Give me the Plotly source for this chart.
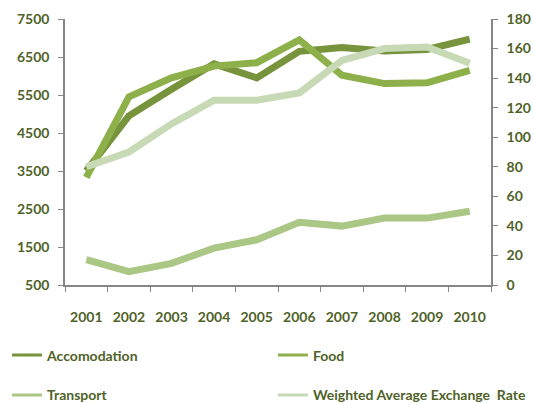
import plotly.graph_objects as go

years = ["2001", "2002", "2003", "2004", "2005", "2006", "2007", "2008", "2009", "2010"]
accomodation = [3500, 4950, 5650, 6320, 5950, 6650, 6750, 6660, 6700, 6970]
food = [3330, 5450, 5950, 6260, 6350, 6950, 6020, 5800, 5820, 6150]
transport = [1170, 850, 1070, 1470, 1690, 2150, 2050, 2260, 2260, 2440]
exchange_rate = [80, 90, 109, 125, 125, 130, 152, 160, 161, 150]

names = ["Accomodation", "Food", "Transport", "Weighted Average Exchange  Rate"]
C_ACC = "#77933C"
C_FOOD = "#8DB04B"
C_TRANS = "#ABC785"
C_EXCH = "#C8D9B5"
colors = [C_ACC, C_FOOD, C_TRANS, C_EXCH]
TXT = "#4F6228"
AX = "#868686"

fig = go.Figure()
series = [accomodation, food, transport, exchange_rate]
axes = ["y", "y", "y", "y2"]
for n, s, c, a in zip(names, series, colors, axes):
    fig.add_trace(go.Scatter(x=years, y=s, name=n, mode="lines", yaxis=a,
                             line=dict(color=c, width=7), showlegend=False))

# legend-only entries (thin lines like the reference legend)
legend_ids = ["legend", "legend2", "legend3", "legend4"]
for n, c, lg in zip(names, colors, legend_ids):
    fig.add_trace(go.Scatter(x=[None], y=[None], name=n, mode="lines",
                             line=dict(color=c, width=3), legend=lg, showlegend=True))

font = dict(family="Lato", size=14, color=TXT, weight="bold")

def leg(x, y):
    return dict(orientation="h", x=x, xanchor="left", y=y, yanchor="middle",
                font=font, bgcolor="rgba(0,0,0,0)")

fig.update_layout(
    width=534, height=403,
    margin=dict(l=65, r=43, t=19, b=118, autoexpand=False),
    paper_bgcolor="white", plot_bgcolor="white",
    font=font,
    xaxis=dict(type="category", tickson="boundaries", ticks="outside", ticklen=5,
               tickcolor=AX, showline=True, linecolor=AX, linewidth=1.5,
               showgrid=False, tickfont=font, range=[-0.5, 9.5], ticklabelstandoff=18),
    yaxis=dict(range=[500, 7500], tick0=500, dtick=1000, ticks="outside", ticklen=5,
               tickcolor=AX, showline=True, linecolor=AX, linewidth=1.5,
               showgrid=False, zeroline=False, tickfont=font, ticklabelstandoff=6),
    yaxis2=dict(range=[0, 180], dtick=20, overlaying="y", side="right", ticks="outside",
                ticklen=5, tickcolor=AX, showline=True, linecolor=AX, linewidth=1.5,
                showgrid=False, zeroline=False, tickfont=font, ticklabelstandoff=6),
    legend=leg(-0.136, -0.265),
    legend2=leg(0.488, -0.265),
    legend3=leg(-0.136, -0.415),
    legend4=leg(0.488, -0.415),
)

fig.write_html("out.html")
